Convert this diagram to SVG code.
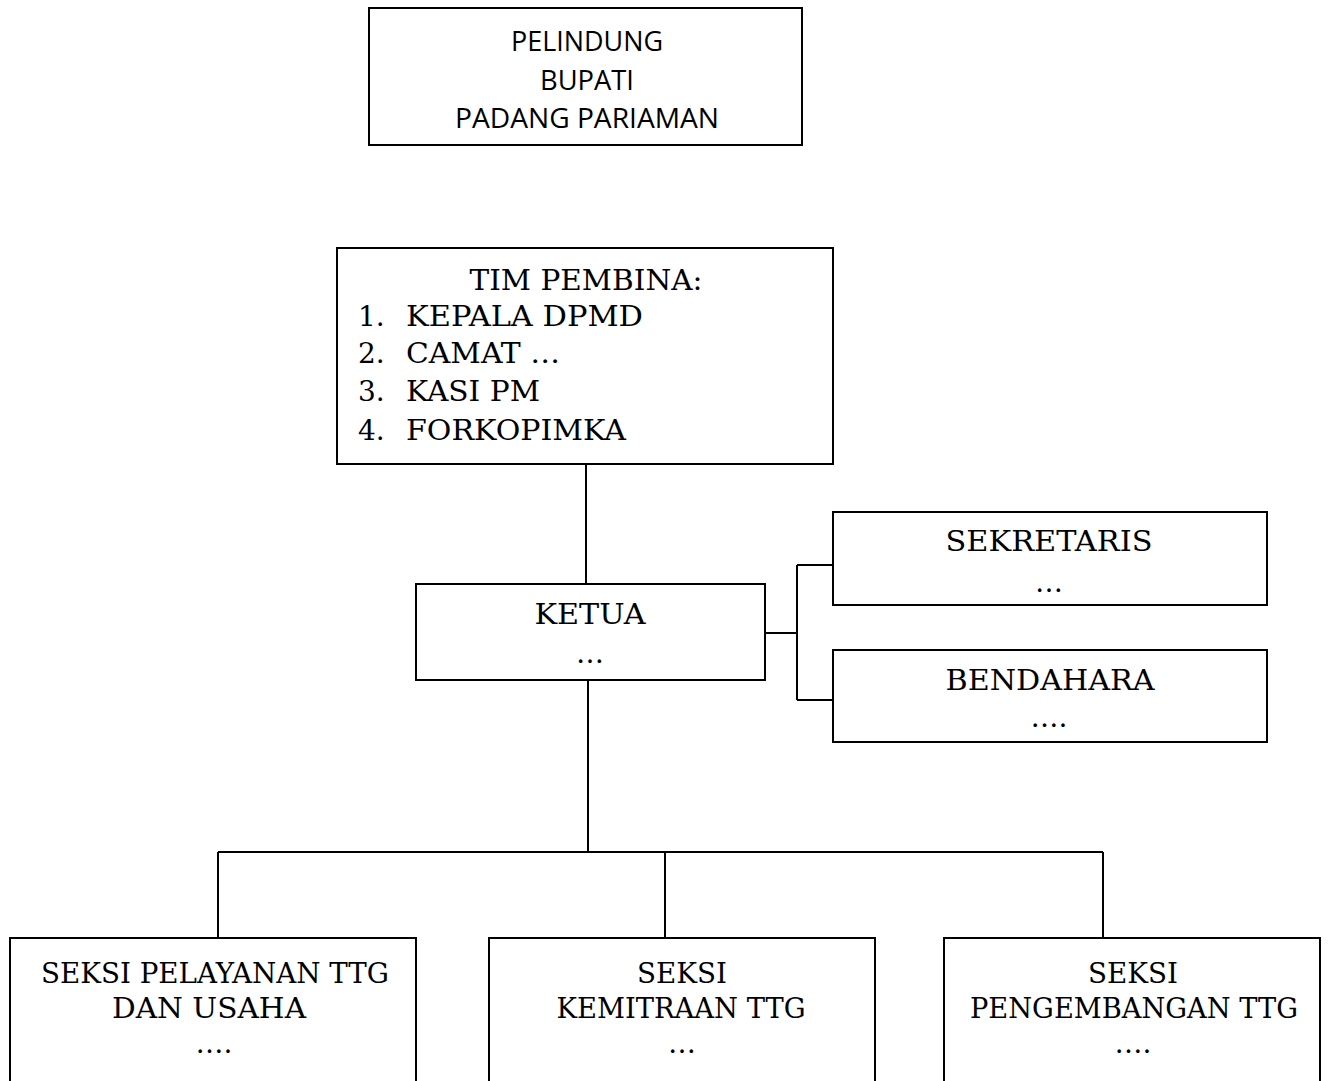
<svg xmlns="http://www.w3.org/2000/svg" width="1329" height="1081" viewBox="0 0 1329 1081">
<style>
.box{fill:#fff;stroke:#000;stroke-width:2}
.s{font-family:"Open Sans","Liberation Sans",Arial,sans-serif;font-size:27px;fill:#000;text-anchor:middle}
.t{font-family:"DejaVu Serif","Liberation Serif",serif;font-size:28px;fill:#000;text-anchor:middle}
.l{text-anchor:start}
.c{fill:none;stroke:#000;stroke-width:2}
</style>
<rect width="1329" height="1081" fill="#fff"/>
<g id="connectors">
<path class="c" d="M586 464V584"/>
<path class="c" d="M588 680V852"/>
<path class="c" d="M218 852H1103M218 852V938M665 852V937M1103 852V938"/>
<path class="c" d="M765 633H797M797 565V700M797 565H833M797 700H833"/>
</g>
<g id="pelindung">
<rect class="box" x="369" y="8" width="433" height="137"/>
<text class="s" x="587" y="51" textLength="152" lengthAdjust="spacingAndGlyphs">PELINDUNG</text>
<text class="s" x="587" y="90" textLength="94" lengthAdjust="spacingAndGlyphs">BUPATI</text>
<text class="s" x="587" y="128" textLength="264" lengthAdjust="spacingAndGlyphs">PADANG PARIAMAN</text>
</g>
<g id="tim-pembina">
<rect class="box" x="337" y="248" width="496" height="216"/>
<text class="t" x="586" y="290" textLength="233" lengthAdjust="spacingAndGlyphs">TIM PEMBINA:</text>
<text class="t l" x="358" y="326">1.</text><text class="t l" x="406" y="326" textLength="237" lengthAdjust="spacingAndGlyphs">KEPALA DPMD</text>
<text class="t l" x="358" y="363">2.</text><text class="t l" x="406" y="363" textLength="154" lengthAdjust="spacingAndGlyphs">CAMAT …</text>
<text class="t l" x="358" y="401">3.</text><text class="t l" x="406" y="401" textLength="134" lengthAdjust="spacingAndGlyphs">KASI PM</text>
<text class="t l" x="358" y="440">4.</text><text class="t l" x="406" y="440" textLength="220" lengthAdjust="spacingAndGlyphs">FORKOPIMKA</text>
</g>
<g id="ketua">
<rect class="box" x="416" y="584" width="349" height="96"/>
<text class="t" x="590" y="624" textLength="111" lengthAdjust="spacingAndGlyphs">KETUA</text>
<text class="t" x="590" y="663">…</text>
</g>
<g id="sekretaris">
<rect class="box" x="833" y="512" width="434" height="93"/>
<text class="t" x="1049" y="551" textLength="207" lengthAdjust="spacingAndGlyphs">SEKRETARIS</text>
<text class="t" x="1049" y="592">…</text>
</g>
<g id="bendahara">
<rect class="box" x="833" y="650" width="434" height="92"/>
<text class="t" x="1050" y="690" textLength="209" lengthAdjust="spacingAndGlyphs">BENDAHARA</text>
<text class="t" x="1049" y="727">….</text>
</g>
<g id="seksi-pelayanan">
<path class="c" d="M10 1082V938H416V1082"/>
<text class="t" x="215" y="983" textLength="348" lengthAdjust="spacingAndGlyphs">SEKSI PELAYANAN TTG</text>
<text class="t" x="209" y="1018" textLength="194" lengthAdjust="spacingAndGlyphs">DAN USAHA</text>
<text class="t" x="214" y="1053">….</text>
</g>
<g id="seksi-kemitraan">
<path class="c" d="M489 1082V938H875V1082"/>
<text class="t" x="682" y="983" textLength="90" lengthAdjust="spacingAndGlyphs">SEKSI</text>
<text class="t" x="681" y="1018" textLength="249" lengthAdjust="spacingAndGlyphs">KEMITRAAN TTG</text>
<text class="t" x="682" y="1053">…</text>
</g>
<g id="seksi-pengembangan">
<path class="c" d="M944 1082V938H1320V1082"/>
<text class="t" x="1133" y="983" textLength="90" lengthAdjust="spacingAndGlyphs">SEKSI</text>
<text class="t" x="1134" y="1018" textLength="328" lengthAdjust="spacingAndGlyphs">PENGEMBANGAN TTG</text>
<text class="t" x="1133" y="1053">….</text>
</g>
</svg>
